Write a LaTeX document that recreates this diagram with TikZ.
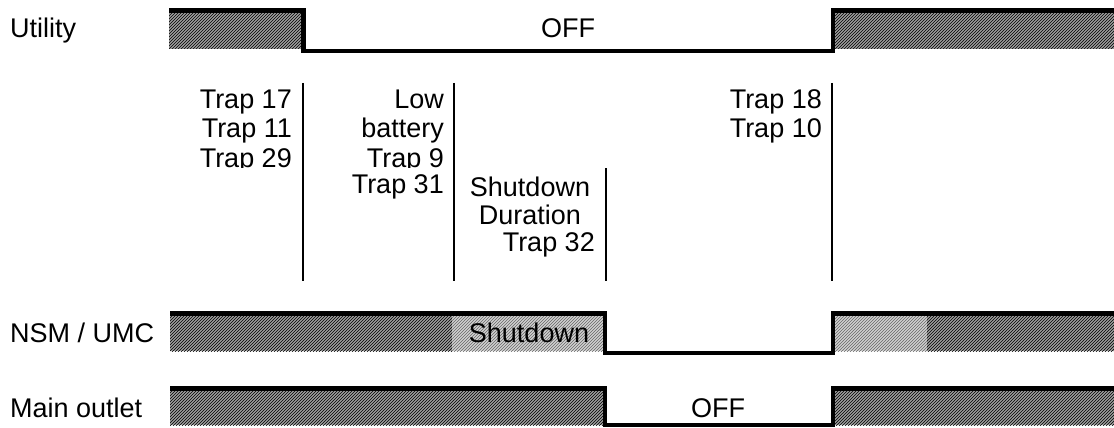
\documentclass[tikz,border=0pt]{standalone}
\usepackage{fontspec}
\setmainfont{Liberation Sans}
\usetikzlibrary{patterns}
\begin{document}
\begin{tikzpicture}[x=1pt,y=-1pt,
  sig/.style={line width=4.5pt, line join=miter},
  hatchdark/.style={fill=black!38, postaction={pattern=north east lines, pattern color=black}},
  hatchlight/.style={fill=black!18, postaction={pattern=north east lines, pattern color=black!60}},
  marker/.style={line width=2pt},
  lbl/.style={font=\fontsize{27}{30}\selectfont, inner sep=0pt}]
\useasboundingbox (0,0) rectangle (1114,428);
% fills
\fill[hatchdark] (169,12.5) rectangle (303,49);
\fill[hatchdark] (833,12.5) rectangle (1114,49);
\fill[hatchdark] (170,316) rectangle (452,351);
\fill[hatchlight] (452,316) rectangle (605,351);
\fill[hatchlight] (833,316) rectangle (927,351);
\fill[hatchdark] (927,316) rectangle (1114,351);
\fill[hatchdark] (170,391) rectangle (605,425);
\fill[hatchdark] (833,391) rectangle (1114,425);
% signals
\draw[sig] (169,10.3) -- (303.5,10.3) -- (303.5,51) -- (833,51) -- (833,10.3) -- (1114,10.3);
\draw[sig] (170,313.5) -- (605,313.5) -- (605,353) -- (833,353) -- (833,313.5) -- (1114,313.5);
\draw[sig] (170,388.5) -- (605,388.5) -- (605,425) -- (833,425) -- (833,388.5) -- (1114,388.5);
% event markers
\coordinate (m1t) at (303,83); \coordinate (m1b) at (303,281);
\coordinate (m2t) at (454,83); \coordinate (m2b) at (454,281);
\coordinate (m3t) at (606,168); \coordinate (m3b) at (606,281);
\coordinate (m4t) at (832,83); \coordinate (m4b) at (832,281);
\draw[marker] (m1t) -- (m1b);
\draw[marker] (m2t) -- (m2b);
\draw[marker] (m3t) -- (m3b);
\draw[marker] (m4t) -- (m4b);
% row labels
\node[lbl, anchor=base west] (utility) at (10,38) {Utility};
\node[lbl, anchor=base west] (nsm) at (10,342) {NSM / UMC};
\node[lbl, anchor=base west] (main) at (10,417) {Main outlet};
\node[lbl, anchor=base] (off1) at (568,38) {OFF};
\node[lbl, anchor=base] (shut) at (529,342) {Shutdown};
\node[lbl, anchor=base] (off2) at (718,417) {OFF};
% event texts
\node[lbl, anchor=base east] (t17) at (292,108) {Trap 17};
\node[lbl, anchor=base east] (t11) at (292,137.5) {Trap 11};
\begin{scope}
\clip (150,140) rectangle (300,167);
\node[lbl, anchor=base east] (t29) at (292,167) {Trap 29};
\end{scope}
\node[lbl, anchor=base east] (low) at (444,108) {Low};
\node[lbl, anchor=base east] (batt) at (444,137.5) {battery};
\begin{scope}
\clip (300,140) rectangle (450,167);
\node[lbl, anchor=base east] (t9) at (444,167) {Trap 9};
\end{scope}
\node[lbl, anchor=base east] (t31) at (444,193) {Trap 31};
\node[lbl, anchor=base] (sd) at (530,196) {Shutdown};
\node[lbl, anchor=base] (dur) at (530,224) {Duration};
\node[lbl, anchor=base east] (t32) at (595,251) {Trap 32};
\node[lbl, anchor=base east] (t18) at (822,108) {Trap 18};
\node[lbl, anchor=base east] (t10) at (822,137.5) {Trap 10};
\end{tikzpicture}
\end{document}
